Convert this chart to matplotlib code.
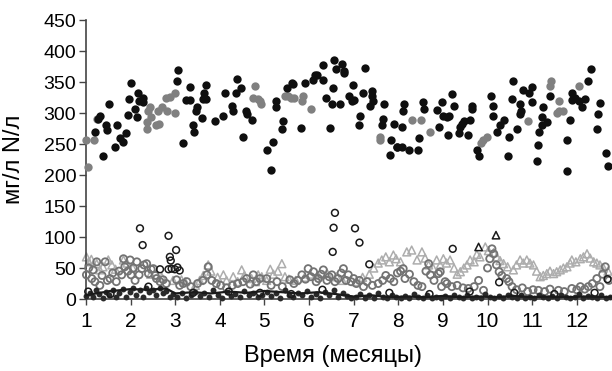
import matplotlib
matplotlib.use("Agg")
import matplotlib.pyplot as plt

plt.rcParams["font.family"] = ["Liberation Sans", "DejaVu Sans"]

# черные точки (верхняя группа)
black_pts = [
    (1.20, 270), (1.39, 231), (1.45, 281), (1.28, 290), (1.31, 296), (1.52, 314), (1.48, 273),
    (1.65, 245), (1.70, 281), (1.76, 260), (1.82, 253), (1.90, 267), (1.95, 297), (1.96, 323),
    (2.02, 349), (2.14, 293), (2.10, 307), (2.19, 320), (2.17, 333), (2.27, 325), (2.27, 318),
    (3.03, 352), (3.07, 369), (3.17, 251), (3.24, 321),
    (3.33, 342), (3.33, 321), (3.39, 280), (3.42, 270), (3.48, 309), (3.47, 304), (3.63, 323),
    (3.69, 346), (3.65, 333), (3.59, 292), (3.70, 322), (3.89, 287), (4.06, 296), (4.12, 333),
    (4.29, 304), (4.28, 311), (4.36, 333), (4.38, 355), (4.47, 340), (4.51, 262), (4.59, 304),
    (4.61, 298), (4.71, 289), (5.05, 240), (5.19, 254), (5.14, 208), (5.26, 320), (5.25, 309),
    (5.42, 287), (5.40, 275), (5.50, 340), (5.61, 349), (5.63, 347), (5.81, 276), (5.91, 349),
    (6.08, 353), (6.13, 362), (6.18, 362), (6.32, 353), (6.31, 378), (6.38, 324), (6.47, 276),
    (6.51, 314), (6.53, 340), (6.56, 385), (6.61, 371), (6.70, 314), (6.73, 379), (6.78, 364),
    (6.79, 367), (6.99, 346), (6.90, 328), (6.97, 320), (7.01, 321), (7.14, 296), (7.13, 280),
    (7.22, 332), (7.25, 373), (7.40, 336), (7.42, 328), (7.44, 320), (7.37, 312), (7.65, 290),
    (7.64, 280), (7.68, 314), (7.82, 233), (7.83, 256), (7.90, 283), (7.96, 245), (7.98, 245),
    (8.12, 314), (8.11, 304), (8.08, 278), (8.08, 245), (8.23, 241), (8.45, 241), (8.47, 260),
    (8.55, 317), (8.57, 307), (8.86, 305), (8.92, 278), (8.98, 317), (9.01, 296), (9.09, 293),
    (9.13, 296), (9.20, 330), (9.24, 312), (9.12, 264), (9.35, 267), (9.39, 278), (9.42, 283),
    (9.47, 287), (9.57, 264), (9.61, 288), (9.65, 312), (9.66, 307), (9.77, 241), (9.82, 231),
    (10.07, 328), (10.12, 312), (10.12, 296), (10.22, 269), (10.27, 280), (10.36, 289),
    (10.45, 231), (10.49, 262), (10.54, 323), (10.58, 352), (10.66, 274), (10.72, 314),
    (10.74, 304), (10.72, 298), (10.79, 337), (10.94, 332), (10.99, 342), (10.99, 317),
    (11.10, 223), (11.14, 249), (11.16, 269), (11.22, 281), (11.24, 309), (11.22, 293),
    (11.33, 285), (11.40, 328), (11.78, 206), (11.79, 256), (11.84, 289), (11.89, 321),
    (11.89, 332), (11.97, 325), (12.06, 320), (12.11, 309), (12.19, 323), (12.26, 352),
    (12.31, 371), (12.51, 316), (12.47, 299), (12.45, 274), (12.66, 235), (12.69, 215),
]

# серые точки (верхняя группа)
gray_pts = [
    (1.05, 213), (1.00, 256), (1.18, 256), (1.24, 290), (2.36, 285), (2.37, 275), (2.40, 304),
    (2.44, 310), (2.45, 293), (2.58, 280), (2.64, 282), (2.61, 304), (2.70, 310), (2.81, 303),
    (2.80, 325), (2.88, 326), (3.00, 332), (3.00, 300), (4.79, 344), (4.75, 325), (4.86, 323),
    (4.92, 315), (4.90, 320), (5.46, 328), (5.52, 328), (5.60, 325), (5.66, 324), (5.87, 328),
    (5.85, 320), (6.04, 307), (7.58, 257), (7.60, 262), (8.30, 289), (8.50, 289), (8.70, 269),
    (9.89, 256), (9.99, 262), (9.85, 252), (10.90, 287), (11.39, 344), (11.43, 352),
    (11.61, 320), (11.60, 304), (11.56, 300), (11.70, 304), (12.04, 344),
]

# светло-серые треугольники
tri_pts = [
    (1.01, 68), (1.06, 60), (1.12, 64), (1.24, 57), (1.31, 47), (1.38, 52), (1.50, 63),
    (1.58, 55), (1.66, 48), (1.84, 63), (1.92, 58), (2.05, 50), (2.45, 40), (2.70, 35),
    (2.95, 30), (3.14, 31), (3.22, 28), (3.45, 22), (3.55, 30), (3.63, 38), (3.74, 55),
    (3.80, 45), (3.95, 35), (4.08, 39), (4.15, 30), (4.30, 36), (4.40, 28), (4.49, 47),
    (4.55, 38), (4.71, 33), (4.80, 28), (4.86, 39), (4.94, 36), (5.05, 30), (5.13, 48),
    (5.20, 40), (5.30, 45), (5.39, 57), (5.46, 36), (5.55, 32), (5.70, 30), (5.90, 35),
    (6.02, 40), (6.20, 38), (6.40, 42), (6.62, 36), (6.75, 30), (7.05, 28), (7.20, 35),
    (7.35, 40), (7.45, 50), (7.55, 58), (7.63, 63), (7.72, 68), (7.80, 60), (7.89, 71),
    (7.95, 65), (8.05, 60), (8.19, 76), (8.30, 79), (8.42, 63), (8.53, 76), (8.60, 66),
    (8.68, 55), (8.78, 50), (8.86, 63), (8.94, 55), (9.01, 65), (9.08, 58), (9.16, 63),
    (9.25, 50), (9.32, 40), (9.39, 44), (9.47, 50), (9.54, 55), (9.61, 63), (9.70, 60),
    (9.76, 72), (9.83, 68), (9.95, 84), (10.02, 78), (10.14, 75), (10.21, 68), (10.28, 62),
    (10.36, 57), (10.45, 52), (10.58, 47), (10.65, 55), (10.73, 63), (10.80, 58), (10.88, 63),
    (10.95, 58), (11.03, 55), (11.10, 45), (11.18, 36), (11.25, 38), (11.33, 41), (11.40, 45),
    (11.48, 41), (11.55, 44), (11.63, 47), (11.70, 50), (11.78, 52), (11.85, 58), (11.89, 63),
    (11.98, 60), (12.08, 65), (12.15, 68), (12.23, 73), (12.30, 66), (12.38, 60), (12.45, 58),
    (12.52, 55), (12.60, 50), (12.70, 45),
]

# серые открытые кружки
gcirc_pts = [
    (1.01, 39), (1.06, 50), (1.13, 33), (1.16, 47), (1.24, 60), (1.20, 28), (1.31, 22),
    (1.36, 38), (1.43, 60), (1.48, 30), (1.54, 33), (1.60, 42), (1.68, 28), (1.74, 45),
    (1.80, 39), (1.84, 65), (1.87, 52), (1.94, 45), (1.99, 63), (2.01, 39), (2.06, 50),
    (2.10, 30), (2.14, 60), (2.19, 39), (2.25, 49), (2.30, 55), (2.36, 57), (2.40, 41),
    (2.46, 48), (2.51, 49), (2.55, 38), (2.58, 33), (2.66, 28), (2.73, 31), (2.80, 25),
    (3.03, 31), (3.10, 22), (3.18, 25), (3.26, 28), (3.35, 20), (3.50, 25), (3.62, 30),
    (3.71, 39), (3.74, 52), (3.82, 30), (3.92, 25), (4.02, 22), (4.15, 18), (4.28, 22),
    (4.40, 25), (4.52, 28), (4.60, 33), (4.68, 24), (4.75, 39), (4.82, 28), (4.90, 33),
    (5.05, 33), (5.15, 22), (5.28, 28), (5.40, 20), (5.57, 31), (5.66, 25), (5.75, 30),
    (5.84, 39), (5.92, 32), (5.98, 49), (6.04, 36), (6.10, 44), (6.16, 28), (6.21, 33),
    (6.27, 40), (6.32, 47), (6.40, 30), (6.45, 36), (6.51, 39), (6.58, 28), (6.65, 33),
    (6.72, 42), (6.77, 49), (6.83, 30), (6.88, 39), (6.94, 28), (7.00, 33), (7.06, 25),
    (7.13, 30), (7.22, 20), (7.30, 28), (7.42, 22), (7.55, 25), (7.65, 30), (7.72, 38),
    (7.82, 33), (7.90, 28), (7.98, 42), (8.05, 45), (8.11, 49), (8.15, 33), (8.25, 40),
    (8.35, 28), (8.44, 22), (8.53, 20), (8.62, 45), (8.68, 57), (8.72, 39), (8.80, 30),
    (8.90, 41), (8.94, 44), (8.97, 20), (9.05, 28), (9.09, 25), (9.20, 20), (9.32, 22),
    (9.45, 18), (9.57, 17), (9.70, 20), (9.80, 30), (9.91, 14), (10.00, 50), (10.05, 65),
    (10.10, 81), (10.14, 73), (10.20, 55), (10.26, 44), (10.32, 38), (10.43, 33), (10.48, 28),
    (10.55, 20), (10.65, 15), (10.78, 18), (10.90, 12), (11.02, 15), (11.14, 14), (11.28, 12),
    (11.40, 16), (11.59, 14), (11.72, 12), (11.89, 17), (12.00, 15), (12.08, 20), (12.18, 16),
    (12.26, 20), (12.35, 25), (12.45, 33), (12.52, 20), (12.58, 40), (12.64, 52), (12.72, 30),
]

# черные открытые кружки
ocirc_pts = [
    (2.21, 114), (2.27, 87), (2.66, 48), (2.85, 102), (2.88, 68), (2.90, 62), (2.85, 48),
    (2.92, 49), (2.99, 48), (3.02, 79), (3.05, 51), (3.10, 46), (6.58, 139), (6.55, 115),
    (6.53, 76), (7.03, 114), (7.13, 91), (7.35, 56), (9.22, 81), (10.26, 27), (12.69, 32),
    (1.05, 12), (1.55, 8), (2.40, 20), (3.40, 10), (4.20, 12), (4.90, 10), (5.60, 8),
    (6.30, 15), (7.80, 10), (8.70, 8), (9.60, 12), (10.60, 10), (11.50, 8), (12.40, 10),
]

# черные открытые треугольники
otri_pts = [(9.80, 84), (10.19, 103)]

# темные точки у нуля
low_pts = [
    (1.00, 5), (1.08, 10), (1.15, 3), (1.22, 14), (1.30, 8), (1.38, 2), (1.45, 12), (1.52, 6),
    (1.60, 15), (1.68, 4), (1.75, 9), (1.82, 16), (1.90, 3), (1.98, 12), (2.05, 18), (2.12, 7),
    (2.20, 15), (2.28, 4), (2.35, 17), (2.42, 11), (2.50, 14), (2.58, 6), (2.65, 18), (2.72, 9),
    (2.80, 13), (2.88, 3), (2.95, 8),
    (3.05, 4), (3.15, 10), (3.25, 2), (3.35, 7), (3.45, 12), (3.55, 5), (3.65, 9), (3.75, 3),
    (3.85, 14), (3.95, 6), (4.05, 2), (4.15, 11), (4.25, 5), (4.35, 8), (4.45, 3), (4.55, 13),
    (4.65, 6), (4.75, 10), (4.85, 4), (4.95, 7),
    (5.05, 12), (5.15, 5), (5.25, 9), (5.35, 2), (5.45, 14), (5.55, 7), (5.65, 3), (5.75, 10),
    (5.85, 6), (5.95, 13), (6.05, 4), (6.15, 8), (6.25, 2), (6.35, 11), (6.45, 6), (6.55, 15),
    (6.65, 3), (6.75, 9), (6.85, 5), (6.95, 2),
    (7.05, 3), (7.15, 8), (7.25, 2), (7.35, 6), (7.45, 1), (7.55, 10), (7.65, 4), (7.75, 2),
    (7.85, 7), (7.95, 3), (8.05, 1), (8.15, 5), (8.25, 2), (8.35, 8), (8.45, 3), (8.55, 1),
    (8.65, 6), (8.75, 2), (8.85, 4), (8.95, 1),
    (9.05, 5), (9.15, 2), (9.25, 7), (9.35, 3), (9.45, 1), (9.55, 6), (9.65, 2), (9.75, 4),
    (9.85, 1), (9.95, 8), (10.05, 3), (10.15, 2), (10.25, 5), (10.35, 1), (10.45, 7),
    (10.55, 3), (10.65, 2), (10.75, 6), (10.85, 1), (10.95, 4),
    (11.05, 2), (11.15, 6), (11.25, 3), (11.35, 1), (11.45, 5), (11.55, 2), (11.65, 7),
    (11.75, 3), (11.85, 1), (11.95, 4), (12.05, 8), (12.15, 2), (12.25, 5), (12.35, 3),
    (12.45, 1), (12.55, 6), (12.65, 2), (12.75, 4),
]

# темная линия у нуля
line_pts = [
    (1.0, 6), (1.3, 10), (1.6, 13), (2.0, 16), (2.4, 15), (2.8, 17), (3.0, 9), (3.4, 11),
    (3.8, 9), (4.2, 12), (4.6, 10), (5.0, 13), (5.4, 11), (5.8, 9), (6.2, 11), (6.6, 8),
    (7.0, 4), (7.4, 6), (7.8, 3), (8.2, 4), (8.6, 3), (9.0, 5), (9.4, 3), (9.8, 4),
    (10.2, 3), (10.6, 5), (11.0, 3), (11.4, 4), (11.8, 3), (12.2, 4), (12.8, 3),
]

months = list(range(1, 13))
y_ticks = [0, 50, 100, 150, 200, 250, 300, 350, 400, 450]

fig = plt.figure(figsize=(6.12, 3.71), dpi=100)
ax = fig.add_axes([0.1405, 0.194, 0.8595, 0.752])

x, y = zip(*tri_pts)
ax.scatter(x, y, marker="^", s=32, facecolors="none", edgecolors="#adadad",
           linewidths=1.1, clip_on=False, zorder=2)
x, y = zip(*gcirc_pts)
ax.scatter(x, y, marker="o", s=26, facecolors="none", edgecolors="#737373",
           linewidths=1.3, clip_on=False, zorder=3)
x, y = zip(*low_pts)
ax.scatter(x, y, marker="o", s=18, color="#2a2a2a", linewidths=0, clip_on=False, zorder=3)
x, y = zip(*line_pts)
ax.plot(x, y, color="#1a1a1a", lw=1.6, clip_on=False, zorder=4)
x, y = zip(*ocirc_pts)
ax.scatter(x, y, marker="o", s=24, facecolors="none", edgecolors="#1a1a1a",
           linewidths=1.1, clip_on=False, zorder=5)
x, y = zip(*otri_pts)
ax.scatter(x, y, marker="^", s=28, facecolors="none", edgecolors="#1a1a1a",
           linewidths=1.1, zorder=5)
x, y = zip(*gray_pts)
ax.scatter(x, y, marker="o", s=36, color="#808080", linewidths=0, clip_on=False, zorder=5)
x, y = zip(*black_pts)
ax.scatter(x, y, marker="o", s=36, color="#0f0f0f", linewidths=0, clip_on=False, zorder=6)

ax.set_xlim(1, 12.79)
ax.set_ylim(0, 450)
ax.set_xticks(months)
ax.set_yticks(y_ticks)

for side in ["top", "right"]:
    ax.spines[side].set_visible(False)
for side in ["left", "bottom"]:
    ax.spines[side].set_color("#444444")
    ax.spines[side].set_linewidth(1.2)

ax.tick_params(axis="y", direction="out", length=5, width=1, color="#444444",
               labelsize=14, pad=2)
ax.tick_params(axis="x", direction="out", length=4, width=1, color="#444444",
               labelsize=15, pad=5)

ax.set_xlabel("Время (месяцы)", fontsize=17)
ax.xaxis.set_label_coords(0.47, -0.165)
ax.set_ylabel("мг/л N/л", fontsize=17)
ax.yaxis.set_label_coords(-0.115, 0.5)

fig.savefig("out.png", dpi=100)
